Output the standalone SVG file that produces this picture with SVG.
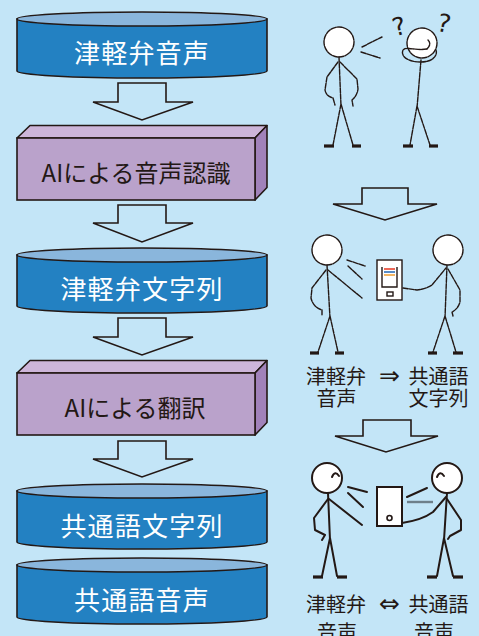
<svg xmlns="http://www.w3.org/2000/svg" width="479" height="636" viewBox="0 0 479 636">
  <style>
    .cyl-body { fill: #2381c2; stroke: #231815; stroke-width: 1.6; }
    .cyl-top { fill: #8ab6dc; stroke: #231815; stroke-width: 1.6; }
    .cyl-text { font-family: "Noto Sans CJK JP", "Noto Sans", sans-serif; font-size: 26px; fill: #ffffff; text-anchor: middle; letter-spacing: 1.2px; }
    .box-front { fill: #baa2cb; stroke: #231815; stroke-width: 1.6; }
    .box-top { fill: #cdb5d9; stroke: #231815; stroke-width: 1.6; stroke-linejoin: round; }
    .box-side { fill: #a182ba; stroke: #231815; stroke-width: 1.6; stroke-linejoin: round; }
    .box-text { font-family: "Noto Sans CJK JP", "Noto Sans", sans-serif; font-size: 24px; fill: #231815; text-anchor: middle; }
    .arrow { fill: none; stroke: #231815; stroke-width: 1.6; stroke-linejoin: miter; }
    .fig { fill: none; stroke: #231815; stroke-width: 1.4; stroke-linecap: round; stroke-linejoin: round; stroke-dasharray: 5 1.2; }
    .fig-solid { fill: none; stroke: #231815; stroke-width: 2; stroke-linecap: round; stroke-linejoin: round; }
    .head { fill: #ffffff; }
    .foot { stroke: #231815; stroke-width: 3.2; stroke-linecap: butt; }
    .label { font-family: "Noto Sans CJK JP", "Noto Sans", sans-serif; font-size: 20px; fill: #231815; text-anchor: middle; }
    .sym { font-family: "DejaVu Sans", sans-serif; font-size: 25px; fill: #231815; text-anchor: middle; }
    .qmark { font-family: "DejaVu Sans", sans-serif; font-size: 25px; fill: #231815; text-anchor: middle; }
  </style>

  <rect width="479" height="636" fill="#c3e5f7"/>

  <!-- connectors: hollow block arrows -->
  <g id="connectors">
    <polygon class="arrow" points="118,83 166,83 166,102 193,102 142,120 93,102 118,102"/>
    <polygon class="arrow" points="118,205 166,205 166,223 193,223 142,242 93,223 118,223"/>
    <polygon class="arrow" points="118,318 166,318 166,337 193,337 142,355 93,337 118,337"/>
    <polygon class="arrow" points="118,441 166,441 166,459 193,459 142,477 93,459 118,459"/>
    <polygon class="arrow" points="362,188 408,188 408,204 437,204 385,220 333,204 362,204"/>
    <polygon class="arrow" points="363,420 411,420 411,436 438,436 386,452 335,436 363,436"/>
  </g>

  <!-- data stores (cylinders) -->
  <g id="tsugaru-speech">
    <path class="cyl-body" d="M17,19 L17,71 A125,7 0 0 0 267,71 L267,19 Z"/>
    <ellipse class="cyl-top" cx="142" cy="19" rx="125" ry="7"/>
    <text class="cyl-text" x="142" y="63">津軽弁音声</text>
  </g>

  <g id="speech-recognition">
    <polygon class="box-top" points="17,138 30,125.5 267,125.5 255,138"/>
    <polygon class="box-side" points="255,138 267,125.5 267,187.5 255,200"/>
    <rect class="box-front" x="17" y="138" width="238" height="62"/>
    <text class="box-text" x="136" y="182">AIによる音声認識</text>
  </g>

  <g id="tsugaru-text">
    <path class="cyl-body" d="M17,255 L17,306 A125,7 0 0 0 267,306 L267,255 Z"/>
    <ellipse class="cyl-top" cx="142" cy="255" rx="125" ry="7"/>
    <text class="cyl-text" x="142" y="299">津軽弁文字列</text>
  </g>

  <g id="translation">
    <polygon class="box-top" points="17,373 30,360.5 267,360.5 255,373"/>
    <polygon class="box-side" points="255,373 267,360.5 267,422.5 255,435"/>
    <rect class="box-front" x="17" y="373" width="238" height="62"/>
    <text class="box-text" x="135" y="417">AIによる翻訳</text>
  </g>

  <g id="standard-text">
    <path class="cyl-body" d="M17,491 L17,542 A125,7 0 0 0 267,542 L267,491 Z"/>
    <ellipse class="cyl-top" cx="142" cy="491" rx="125" ry="7"/>
    <text class="cyl-text" x="142" y="536">共通語文字列</text>
  </g>

  <g id="standard-speech">
    <path class="cyl-body" d="M17,565 L17,617 A125,7 0 0 0 267,617 L267,565 Z"/>
    <ellipse class="cyl-top" cx="142" cy="565" rx="125" ry="7"/>
    <text class="cyl-text" x="142" y="610">共通語音声</text>
  </g>

  <!-- scene 1: dialect speaker and a puzzled listener -->
  <g id="scene-confused">
    <circle class="fig head" cx="339" cy="42" r="15"/>
    <path class="fig" d="M339,57 L341,106 M341,104 L333,145 M341,104 L353,145"/>
    <path class="fig" d="M338,62 L327,77 L325,90 Q326,96 333,98 L335,105"/>
    <path class="fig" d="M340,62 L357,79 L358,89 Q357,96 352,100 L353,106"/>
    <path class="fig" d="M362,47 L382,37 M361,52 L380,58"/>
    <line class="foot" x1="324" y1="146" x2="334" y2="146"/>
    <line class="foot" x1="352" y1="146" x2="361" y2="146"/>

    <circle class="fig head" cx="422" cy="43" r="15"/>
    <path class="fig" d="M421,60 L417,108 M417,106 L410,145 M417,106 L430,145"/>
    <path class="fig" d="M420,62 C408,62 400,56 403,50 C406,46 416,51 427,49"/>
    <path class="fig" d="M421,62 C432,62 438,56 436,50"/>
    <path class="fig" d="M427,49 Q432,44 428,40"/>
    <line class="foot" x1="403" y1="146" x2="413" y2="146"/>
    <line class="foot" x1="429" y1="146" x2="438" y2="146"/>
    <text class="qmark" x="399" y="35" transform="rotate(-15 399 26)">?</text>
    <text class="qmark" x="444" y="32" transform="rotate(12 444 23)">?</text>
  </g>

  <!-- scene 2: speech shown as text on a device -->
  <g id="scene-text-device">
    <circle class="fig head" cx="327" cy="250" r="15"/>
    <path class="fig" d="M327,265 L330,318 M330,316 L318,352 M330,316 L338,352"/>
    <path class="fig" d="M326,270 L312,288 L311,298 Q313,307 322,310 L322,315"/>
    <path class="fig" d="M328,270 L362,298"/>
    <path class="fig" d="M347,260 L365,266 M348,266 L362,279"/>
    <line class="foot" x1="310" y1="353" x2="319" y2="353"/>
    <line class="foot" x1="335" y1="353" x2="344" y2="353"/>

    <rect x="377" y="260" width="25" height="40" fill="#ffffff" stroke="#231815" stroke-width="1.4"/>
    <path d="M382,267 L382,287 L397,287 L397,267" fill="none" stroke="#231815" stroke-width="1.4"/>
    <line x1="384" y1="269" x2="395" y2="269" stroke="#e8412c" stroke-width="1.6"/>
    <line x1="384" y1="272" x2="395" y2="272" stroke="#2e6fb8" stroke-width="1.6"/>
    <line x1="384" y1="275" x2="395" y2="275" stroke="#f2a23a" stroke-width="1.6"/>
    <rect x="387" y="292" width="6" height="4" fill="none" stroke="#231815" stroke-width="1.4"/>

    <circle class="fig head" cx="448" cy="250" r="15"/>
    <path class="fig" d="M447,265 L445,318 M445,316 L433,352 M445,316 L456,352"/>
    <path class="fig" d="M403,288 L417,290 Q426,289 432,285 L446,268"/>
    <path class="fig" d="M448,269 L460,290 L460,302 Q458,309 452,312 L453,316"/>
    <line class="foot" x1="428" y1="353" x2="437" y2="353"/>
    <line class="foot" x1="453" y1="353" x2="463" y2="353"/>

    <text class="label" x="336" y="384">津軽弁</text>
    <text class="sym" x="389.5" y="384">⇒</text>
    <text class="label" x="438.5" y="384">共通語</text>
    <text class="label" x="336.5" y="406">音声</text>
    <text class="label" x="438.5" y="406">文字列</text>
  </g>

  <!-- scene 3: two-way conversation through the device -->
  <g id="scene-conversation">
    <circle class="fig-solid head" cx="327" cy="478" r="15"/>
    <path class="fig-solid" d="M332,477 Q335,470 339,476"/>
    <path class="fig-solid" d="M328,493 L330,540 M330,538 L322,576 M330,538 L337,576"/>
    <path class="fig-solid" d="M328,499 L314,518 L315,530 L325,535 L322,540"/>
    <path class="fig-solid" d="M329,499 L362,525"/>
    <path class="fig-solid" d="M348,487 L367,492 M348,493 L363,507" stroke-width="1.6"/>
    <line class="foot" x1="313" y1="577" x2="323" y2="577"/>
    <line class="foot" x1="337" y1="577" x2="347" y2="577"/>

    <rect x="377" y="487" width="25" height="39" fill="#ffffff" stroke="#231815" stroke-width="2"/>
    <circle cx="389.5" cy="518" r="2.5" fill="none" stroke="#231815" stroke-width="1.6"/>

    <circle class="fig-solid head" cx="447" cy="478" r="15"/>
    <path class="fig-solid" d="M437,477 Q440,470 444,476"/>
    <path class="fig-solid" d="M402,523 Q422,520 433,512 L446,497"/>
    <path class="fig-solid" d="M407,497 L427,488" stroke-width="1.6"/>
    <line x1="407" y1="502" x2="433" y2="502" stroke="#6e7f8a" stroke-width="2.4"/>
    <path class="fig-solid" d="M447,493 L444,540 M444,538 L437,576 M444,538 L453,576"/>
    <path class="fig-solid" d="M447,499 L461,520 L461,530 L450,536 L448,539"/>
    <line class="foot" x1="427" y1="577" x2="437" y2="577"/>
    <line class="foot" x1="453" y1="577" x2="463" y2="577"/>

    <text class="label" x="336" y="612">津軽弁</text>
    <text class="sym" x="389.5" y="612">⇔</text>
    <text class="label" x="438.5" y="612">共通語</text>
    <text class="label" x="337" y="640">音声</text>
    <text class="label" x="434" y="640">音声</text>
  </g>
</svg>
